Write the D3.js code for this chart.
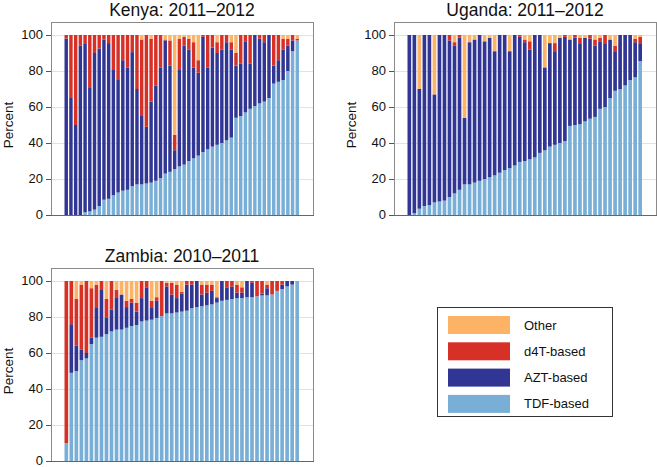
<!DOCTYPE html>
<html><head><meta charset="utf-8">
<script src="https://cdn.jsdelivr.net/npm/d3@7"></script>
<style>
html,body{margin:0;padding:0;background:#fff;}
text{font-family:"Liberation Sans",Arial,Helvetica,sans-serif;}
</style></head>
<body><svg id="c" width="657" height="467"></svg>
<script>
const seriesKeys = ["TDF","AZT","d4T","Other"];
const seriesLabels = ["TDF-based","AZT-based","d4T-based","Other"];
const seriesColors = ["#79AFD6","#313695","#D73027","#FDB366"];
const yTicks = [0,20,40,60,80,100];

const kenyaTDF   = [0,0,0,0,1.5,2,3,5,8.5,9,11,12.5,13.5,14,16,17,17,17.5,18,19,20.5,23,24,25.5,27,28,30,31.5,33,35,36.5,38,39,40,41.5,43,54,55,57,59,60.5,62,63,65,73,74,75,80,91,97];
const kenyaAZT   = [98,65,50,94,93.5,69,87,87.5,89,86.5,70,62.5,72.5,68,74.5,53,38,31.5,45,53,61.5,74,59,10.5,54,66,62,50.5,46,64,45.5,55,51,52,54.5,49,29,29,39.5,25,39.5,36,33,35,10,12,17,14,6,0];
const kenyaD4T   = [2,35,50,6,5,29,10,7.5,2.5,4.5,19,25,14,18,9.5,30,42.5,51,35,28,18,0.5,14,8.5,17,5,6,14,7,1,18,7,6,8,4,4,7,16,3.5,16,0,2,4,0,17,14,6,4,3,1];
const kenyaOther = [0,0,0,0,0,0,0,0,0,0,0,0,0,0,0,0,2.5,0,2,0,0,2.5,3,55.5,2,1,2,4,14,0,0,0,4,0,0,4,10,0,0,0,0,0,0,0,0,0,2,2,0,2];

const ugandaTDF   = [0,1,3.5,5,5.5,7,7.5,8,10,12,14,17,17,18,19,20,21,22,23.5,25,26,27.5,29.5,30,31,32,34.5,36,38,39,40,41,49.5,50,50.5,52,53.5,54.5,59,60,65,69,70,72,75,76.5,85.5];
const ugandaAZT   = [100,99,66.5,95,94.5,60,92.5,92,87,82,84.5,37,79,79.5,81,76.5,77.5,69,76.5,75,65,72.5,69.5,66,61,68,65.5,46,57.5,52,58.5,58,48,48.5,44.5,46.5,44.5,39.5,37.5,35,32.5,22,30,28,25,19.5,9.5];
const ugandaD4T   = [0,0,0,0,0,0,0,0,3,2,1.5,0,0,0,0,0,0,0,0,0,0,0,1,1.5,4.5,0,0,0,0,4.5,0,1,0,1.5,3.5,0,2,3.5,2,5,0,3,0,0,0,2,4];
const ugandaOther = [0,0,30,0,0,33,0,0,0,4,0,46,4,2.5,0,3.5,1.5,9,0,0,9,0,0,2.5,3.5,0,0,18,4.5,4.5,1.5,0,2.5,0,1.5,1.5,0,2.5,1.5,0,2.5,6,0,0,0,2,1];

const zambiaTDF   = [10,49,50,56,57,65,68.5,69,70.5,72,73,73,74,75,75.5,77.5,78,78.5,79.5,80.5,82,82,82.5,83,83.5,85,85.5,86,86.5,87,88,89,89.5,90,90.5,90.5,91,91,91.5,92,92,92.5,94.5,95.5,97,98,100];
const zambiaAZT   = [0,27,14,6,3,3.5,16.5,26,9,12,18,19.5,11.5,13,7.5,13,18.5,6.5,9.5,0,15,10.5,8,10,14.5,13,14.5,6.5,7,7.5,2.5,11,7,7,3,3,9,8,0,1,4,0,0,2.5,3,2,0];
const zambiaD4T   = [90,24,26,36,40,27.5,13,5,10.5,16,4,0,3.5,2,5,9.5,3.5,4,2,19.5,2,6.5,7.5,1,2,2,0,5.5,4.5,3.5,0.5,0,3.5,3,4.5,3,0,1,8.5,7,2,7.5,5.5,2,0,0,0];
const zambiaOther = [0,0,10,2,0,4,2,0,10,0,5,7.5,11,10,12,0,0,11,9,0,1,1,2,6,0,0,0,2,2,2,9,0,0,0,2,3.5,0,0,0,0,2,0,0,0,0,0,0];

const panels = [
  {title:"Kenya: 2011\u20132012", x0:51, x1:313, top:22, y0:215, y100:35,
   TDF:kenyaTDF, AZT:kenyaAZT, d4T:kenyaD4T, Other:kenyaOther},
  {title:"Uganda: 2011\u20132012", x0:394, x1:656, top:22, y0:215, y100:35,
   TDF:ugandaTDF, AZT:ugandaAZT, d4T:ugandaD4T, Other:ugandaOther},
  {title:"Zambia: 2010\u20132011", x0:51, x1:313, top:268, y0:461, y100:281,
   TDF:zambiaTDF, AZT:zambiaAZT, d4T:zambiaD4T, Other:zambiaOther}
];

const svg = d3.select("#c");
const color = d3.scaleOrdinal().domain(seriesKeys).range(seriesColors);

panels.forEach(p => {
  const n = p.TDF.length;
  const rows = d3.range(n).map(i => ({i, TDF:p.TDF[i], AZT:p.AZT[i], d4T:p.d4T[i], Other:p.Other[i]}));
  const x = d3.scaleBand().domain(d3.range(n)).range([p.x0+13.5, p.x1-14]).paddingInner(0.27).paddingOuter(0);
  const y = d3.scaleLinear().domain([0,100]).range([p.y0, p.y100]);
  const g = svg.append("g");

  g.append("rect").attr("x",p.x0+0.5).attr("y",p.top+0.5).attr("width",p.x1-p.x0).attr("height",p.y0-p.top)
    .attr("fill","none").attr("stroke","#8a8a8a").attr("stroke-width",1);
  g.selectAll("line.grid").data(yTicks.filter(t=>t>0)).enter().append("line")
    .attr("x1",p.x0+1).attr("x2",p.x1).attr("y1",d=>Math.round(y(d))+0.5).attr("y2",d=>Math.round(y(d))+0.5)
    .attr("stroke","#e2e2e2").attr("stroke-width",1);

  const stacked = d3.stack().keys(seriesKeys)(rows);
  g.selectAll("g.s").data(stacked).enter().append("g").attr("fill",d=>color(d.key))
    .selectAll("rect").data(d=>d).enter().append("rect")
    .attr("x",d=>x(d.data.i)).attr("width",x.bandwidth())
    .attr("y",d=>y(d[1])).attr("height",d=>Math.max(0,y(d[0])-y(d[1])));

  g.append("line").attr("x1",p.x0).attr("x2",p.x1+1).attr("y1",p.y0+0.5).attr("y2",p.y0+0.5)
    .attr("stroke","#666").attr("stroke-width",1.2);

  const ax = g.append("g").attr("transform",`translate(${p.x0},0)`)
    .call(d3.axisLeft(y).tickValues(yTicks).tickSize(5).tickPadding(3));
  ax.select(".domain").remove();
  ax.selectAll(".tick line").attr("stroke","#555");
  ax.selectAll(".tick text").attr("font-size","13px").attr("fill","#111").attr("dy","0.25em")
    .style("font-family","'Liberation Sans',Arial,sans-serif");

  g.append("text").attr("transform",`translate(${p.x0-38},${(p.y0+p.y100)/2}) rotate(-90)`)
    .attr("text-anchor","middle").attr("font-size","13.5px").attr("fill","#111").text("Percent");

  g.append("text").attr("x",(p.x0+p.x1)/2).attr("y",p.top-6).attr("text-anchor","middle")
    .attr("font-size","17.5px").attr("fill","#111").text(p.title);
});

const lg = svg.append("g");
lg.append("rect").attr("x",437.5).attr("y",307.5).attr("width",175).attr("height",109)
  .attr("fill","#fff").attr("stroke","#333").attr("stroke-width",1);
const legOrder = [3,2,1,0];
legOrder.forEach((k,j) => {
  const cy = 325 + j*26.3;
  lg.append("rect").attr("x",448).attr("y",cy-9).attr("width",62).attr("height",18).attr("fill",seriesColors[k]);
  lg.append("text").attr("x",524).attr("y",cy+4.5).attr("font-size","13px").attr("fill","#111").text(seriesLabels[k]);
});
</script>
</body></html>
